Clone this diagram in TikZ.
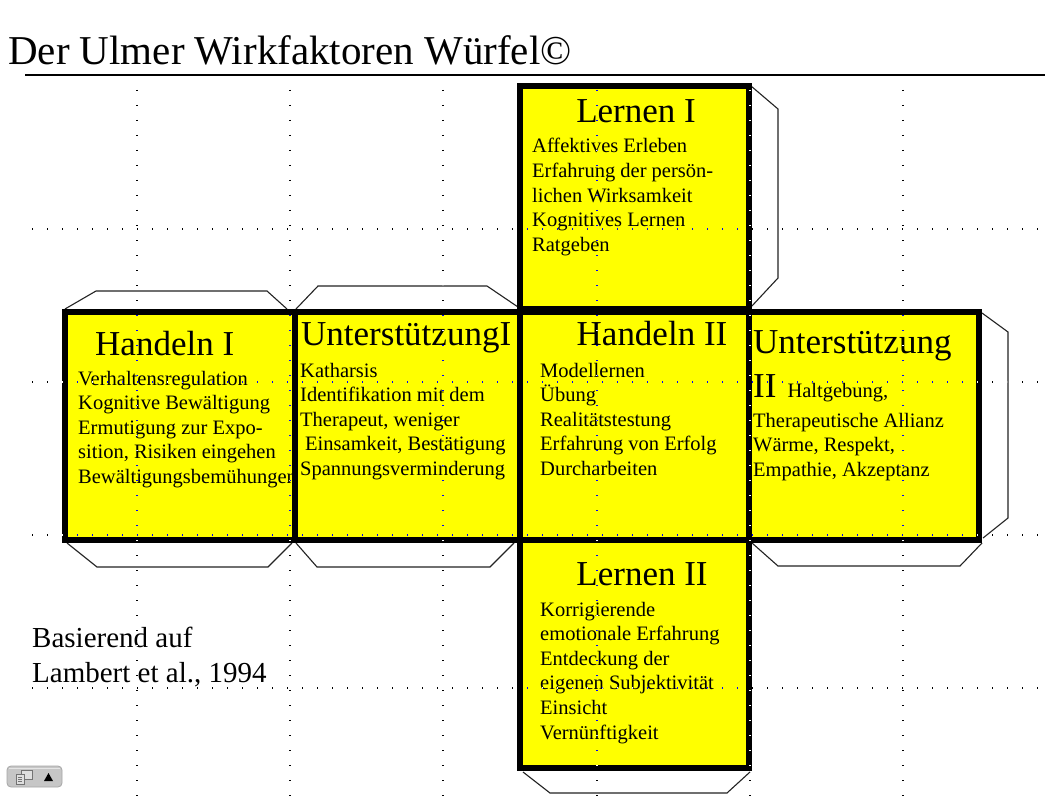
\documentclass[tikz,border=0pt]{standalone}
\usepackage{fontspec}
\setmainfont{Liberation Serif}
\definecolor{faceyellow}{RGB}{255,255,0}
\definecolor{flapline}{RGB}{35,35,35}
\newcommand\facelines[1]{\begin{tabular}[t]{@{}l@{}}#1\end{tabular}}
\begin{document}
\begin{tikzpicture}[x=1pt,y=-1pt,
  face/.style={fill=faceyellow},
  faceborder/.style={draw=black,line width=6pt},
  flap/.style={draw=flapline,line width=1.1pt},
  gridline/.style={draw=white,line width=1.3pt,dash pattern=on 1.3pt off 13.7pt},
  boxtitle/.style={font=\fontsize{35}{42}\selectfont,inner sep=0pt},
  boxbody/.style={font=\fontsize{20.5}{24.6}\selectfont,inner sep=0pt,anchor=base west},
  maintitle/.style={font=\fontsize{41}{48}\selectfont,inner sep=0pt,anchor=base west},
  source/.style={font=\fontsize{29}{35}\selectfont,inner sep=0pt,anchor=base west}]
\useasboundingbox (0,0) rectangle (1045,797);
\fill[white] (0,0) rectangle (1045,797);

% title
\node[maintitle] (title) at (8,65) {Der Ulmer Wirkfaktoren Würfel©};
\draw[line width=1.6pt] (25,75) -- (1045,75);

% flaps
\draw[flap] (751,86) -- (778,109) -- (778,278) -- (751,307);
\draw[flap] (65,309) -- (96,291) -- (267,291) -- (287,309);
\draw[flap] (296,309) -- (318,286) -- (487,286) -- (518,307);
\draw[flap] (67,543) -- (97,567) -- (268,567) -- (292,543);
\draw[flap] (296,543) -- (317,567) -- (490,567) -- (514,543);
\draw[flap] (982,313) -- (1008,332) -- (1008,518) -- (983,538);
\draw[flap] (752,543) -- (778,566) -- (960,566) -- (982,543);
\draw[flap] (523,772) -- (550,793) -- (727,793) -- (750,772);

% faces
\path[face] (520,86) rectangle (749,309);
\path[face] (65,312) rectangle (295,540);
\path[face] (295,312) rectangle (520,540);
\path[face] (520,312) rectangle (749,540);
\path[face] (749,312) rectangle (979,540);
\path[face] (520,540) rectangle (749,768);

% texts
\node[boxtitle,anchor=base] (l1t) at (636,123) {Lernen I};
\node[boxbody] (l1b) at (532,153) {\facelines{Affektives Erleben\\Erfahrung der persön-\\lichen Wirksamkeit\\Kognitives Lernen\\Ratgeben}};

\node[boxtitle,anchor=base west] (h1t) at (95,355) {Handeln I};
\node[boxbody] (h1b) at (78,385) {\facelines{Verhaltensregulation\\Kognitive Bewältigung\\Ermutigung zur Expo-\\sition, Risiken eingehen\\Bewältigungsbemühungen}};

\node[boxtitle,anchor=base west] (u1t) at (301,345) {UnterstützungI};
\node[boxbody] (u1b) at (300,377) {\facelines{Katharsis\\Identifikation mit dem\\Therapeut, weniger\\\hspace{5pt}Einsamkeit, Bestätigung\\Spannungsverminderung}};

\node[boxtitle,anchor=base] (h2t) at (652,345) {Handeln II};
\node[boxbody] (h2b) at (540,377) {\facelines{Modellernen\\Übung\\Realitätstestung\\Erfahrung von Erfolg\\Durcharbeiten}};

\node[boxtitle,anchor=base west] (u2t) at (753,353) {Unterstützung};
\node[boxbody] (u2b) at (753,397) {\facelines{{\fontsize{35}{42}\selectfont II}\hspace{11pt}Haltgebung,\\[5.4pt]Therapeutische Allianz\\Wärme, Respekt,\\Empathie, Akzeptanz}};

\node[boxtitle,anchor=base] (l2t) at (642,585) {Lernen II};
\node[boxbody] (l2b) at (540,616) {\facelines{Korrigierende\\emotionale Erfahrung\\Entdeckung der\\eigenen Subjektivität\\Einsicht\\Vernünftigkeit}};

\node[source] (src) at (32,647) {\begin{tabular}[t]{@{}l@{}}Basierend auf\\Lambert et al., 1994\end{tabular}};

% borders
\draw[faceborder] (520,86) rectangle (749,309);
\draw[faceborder] (65,312) rectangle (295,540);
\draw[faceborder] (295,312) rectangle (520,540);
\draw[faceborder] (520,312) rectangle (749,540);
\draw[faceborder] (749,312) rectangle (979,540);
\draw[faceborder] (520,540) rectangle (749,768);

% dotted guide grid (inverting)
\begin{scope}[blend mode=difference]
\foreach \gx in {137,290,443,597,750,903}
  \draw[gridline] (\gx,90) -- (\gx,797);
\foreach \gy in {229,382,535,688}
  \draw[gridline] (32,\gy) -- (1045,\gy);
\end{scope}

% small control widget
\draw[draw=gray!70,fill=gray!45,rounded corners=4pt,line width=0.8pt] (7,766) rectangle (62,787);
\draw[gray!20,line width=0.8pt] (9,768) -- (60,768);
\draw[black!55,fill=gray!25,line width=0.7pt] (21,770) rectangle (32,779);
\draw[black!55,fill=gray!25,line width=0.7pt] (16,774) rectangle (24,784);
\draw[black!55,line width=0.6pt] (18,777) -- (22,777) (18,779) -- (22,779) (18,781) -- (22,781);
\fill[black] (44,781) -- (48.5,773) -- (53,781) -- cycle;
\end{tikzpicture}
\end{document}
